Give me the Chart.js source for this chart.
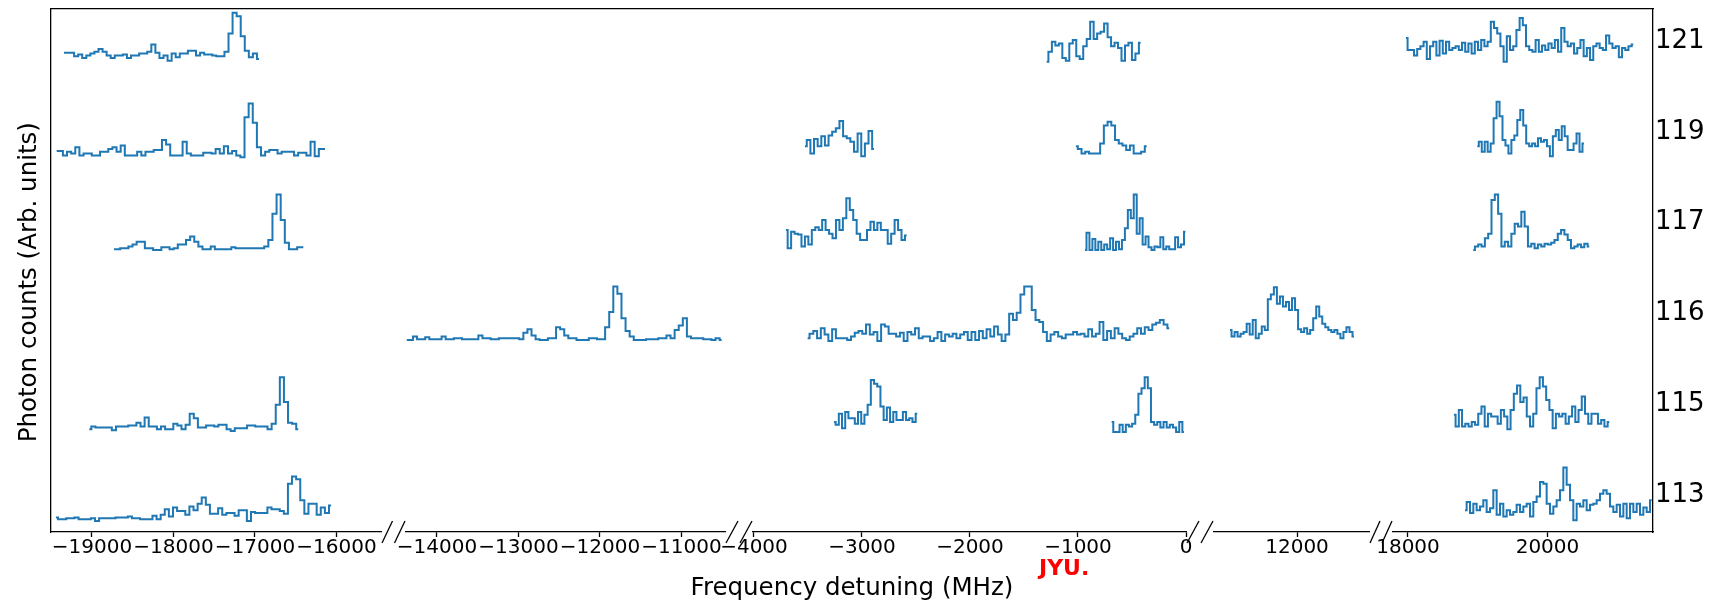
<!DOCTYPE html>
<html>
<head>
<meta charset="utf-8">
<script src="https://cdn.jsdelivr.net/npm/chart.js@4.4.0/dist/chart.umd.min.js"></script>
<style>
	html, body { margin: 0; padding: 0; background: #fff; }
	#wrap { position: relative; width: 1712px; height: 602px; }
	#jyu { position: absolute; left: 1039px; top: 557px; color: #f00; font: bold 22px "DejaVu Sans"; line-height: 1; }
</style>
</head>
<body>
<div id="wrap">
	<canvas id="myChart" width="1712" height="602"></canvas>
	<div id="jyu">JYU.</div>
</div>
<script>
// isotopes, bottom to top, and where their labels sit on the right axis
let isotopes = ['113', '115', '116', '117', '119', '121']
let rowTicks = [0.4, 1.4, 2.4, 3.4, 4.4, 5.4]

// limits (MHz) and tick values of the five pieces of the broken x axis
let seg1 = [-19503, -15454]
let seg2 = [-14380, -10466]
let seg3 = [-4009, 0]
let seg4 = [10814, 13028]
let seg5 = [17785, 21513]
let ticks1 = [-19000, -18000, -17000, -16000]
let ticks2 = [-14000, -13000, -12000, -11000]
let ticks3 = [-4000, -3000, -2000, -1000, 0]
let ticks4 = [12000]
let ticks5 = [18000, 20000]

// ***** SPECTRA *****
// first / last scan frequency (MHz) and the counts (1 count = 0.01 row)
let s121a_x = [-19344, -16951]
let s121a = [27,27,27,23,25,21,24,26,28,31,28,24,21,24,24,25,21,24,24,26,26,28,36,27,21,24,18,26,22,26,26,29,29,24,27,25,25,24,23,23,28,48,71,67,45,29,22,26,20]
let s121c_x = [-1290, -420]
let s121c = [17,28,39,35,37,21,18,37,41,23,20,34,42,61,42,48,50,59,44,34,38,32,18,35,38,19,26,38]
let s121e_x = [17971, 21230]
let s121e = [43,30,30,24,31,34,39,20,34,39,24,40,26,39,30,32,34,30,38,28,37,26,39,30,41,34,39,61,54,48,34,17,45,30,34,52,65,57,34,30,28,41,28,35,30,37,32,41,28,54,39,34,37,26,32,41,23,32,19,34,37,32,30,46,37,32,34,22,32,30,34,36]

let s119a_x = [-19433, -16141]
let s119a = [19,19,14,18,16,23,14,16,16,14,14,18,18,21,23,18,25,14,14,14,18,14,18,18,20,20,31,26,14,14,14,29,16,14,14,14,17,17,16,21,16,24,16,19,14,12,56,71,50,23,14,18,20,20,16,18,18,18,14,17,17,14,29,13,21,21]
let s119b_x = [-3528, -2889]
let s119b = [24,31,16,32,24,35,25,36,40,44,52,35,33,29,18,38,13,27,41,21]
let s119c_x = [-1019, -364]
let s119c = [24,21,16,18,16,16,16,27,47,51,47,31,27,25,20,25,16,16,18,24]
let s119e_x = [18994, 20523]
let s119e = [24,29,18,29,18,27,55,73,57,31,25,16,31,36,53,64,47,27,24,27,24,33,29,31,24,13,35,42,31,46,35,20,20,27,38,18,27]

let s117a_x = [-18730, -16407]
let s117a = [11,11,12,12,14,16,19,19,12,12,10,10,13,13,11,12,16,16,21,25,19,14,11,11,14,11,11,11,11,13,12,12,12,12,12,12,12,14,21,50,71,43,18,11,11,13,13]
let s117b_x = [-3704, -2586]
let s117b = [32,12,30,28,27,14,25,16,32,35,32,43,32,28,23,43,32,45,67,54,43,28,21,21,32,41,32,40,32,32,17,28,43,32,21,26]
let s117c_x = [-935, -5]
let s117c = [10,29,10,22,10,19,10,16,11,23,10,19,11,21,34,54,45,71,28,45,16,25,13,10,14,13,24,11,14,11,11,24,13,16,30]
let s117e_x = [18936, 20599]
let s117e = [10,14,16,14,23,28,65,71,50,14,19,14,28,39,36,52,36,14,17,12,16,14,17,16,18,21,28,32,27,21,12,14,16,13,17,14]

let s116b_x = [-14370, -10507]
let s116b = [11,11,15,12,12,14,12,12,12,15,12,12,13,13,12,12,12,12,16,13,13,12,12,13,13,13,13,13,12,19,23,16,12,11,11,13,13,25,23,16,13,13,11,11,11,13,13,12,12,25,42,70,62,35,21,15,11,11,11,12,12,12,13,13,16,13,22,27,35,15,13,13,13,12,12,11,13,11]
let s116c_x = [-3503, -155]
let s116c = [13,18,21,13,24,17,10,23,13,13,13,11,15,19,21,18,28,17,20,10,28,26,18,18,15,19,10,20,17,24,13,15,15,10,13,20,10,17,15,18,13,17,20,11,20,11,21,13,23,15,26,17,10,17,40,33,41,61,70,70,44,33,31,20,10,17,20,15,13,17,17,20,17,18,15,23,15,18,31,11,21,13,24,18,13,11,15,18,24,18,25,22,28,30,33,28,24]
let s116d_x = [11043, 12814]
let s116d = [22,15,20,15,18,20,29,17,33,13,18,26,22,56,61,69,51,59,48,53,44,57,44,23,20,24,18,22,35,48,37,29,25,22,20,22,18,13,20,25,20,15]

let s115a_x = [-19033, -16469]
let s115a = [13,16,15,15,15,15,12,16,16,16,17,17,20,16,26,16,16,13,16,13,13,19,17,13,18,30,25,15,15,17,17,16,18,18,13,11,14,14,14,17,17,16,16,16,13,19,40,70,43,20,19,13]
let s115b_x = [-3259, -2488]
let s115b = [21,18,30,14,32,25,25,19,32,19,29,40,67,63,60,38,23,37,21,32,23,23,32,23,25,21,30]
let s115c_x = [-688, -19]
let s115c = [21,10,10,18,10,18,16,19,29,52,58,70,58,21,18,21,15,21,15,18,15,10,21,10]
let s115e_x = [18659, 20886]
let s115e = [29,16,34,16,19,16,21,18,30,38,16,30,27,27,19,34,27,13,34,52,61,43,48,27,16,30,58,70,60,45,34,14,30,27,30,19,27,38,21,34,49,30,19,30,30,19,23,16,21]

let s113a_x = [-19442, -16067]
let s113a = [16,14,14,15,15,16,14,14,14,15,12,15,15,15,15,16,16,16,17,15,15,14,14,14,18,14,19,25,17,27,23,23,19,28,24,31,38,30,20,20,26,19,21,21,18,24,24,12,22,21,21,21,27,25,25,23,20,53,61,58,35,20,31,31,19,27,21,29]
let s113e_x = [18817, 21494]
let s113e = [24,33,21,31,24,28,35,22,26,46,19,31,17,24,19,22,30,22,28,31,17,33,39,55,53,31,20,28,35,46,71,52,35,13,31,28,35,24,30,31,35,42,46,42,28,22,30,17,31,15,31,22,31,19,27,22,35]

// row, x axis, range, counts
let spectra = [
	[5, 'x1', s121a_x, s121a], [5, 'x3', s121c_x, s121c], [5, 'x5', s121e_x, s121e],
	[4, 'x1', s119a_x, s119a], [4, 'x3', s119b_x, s119b], [4, 'x3', s119c_x, s119c], [4, 'x5', s119e_x, s119e],
	[3, 'x1', s117a_x, s117a], [3, 'x3', s117b_x, s117b], [3, 'x3', s117c_x, s117c], [3, 'x5', s117e_x, s117e],
	[2, 'x2', s116b_x, s116b], [2, 'x3', s116c_x, s116c], [2, 'x4', s116d_x, s116d],
	[1, 'x1', s115a_x, s115a], [1, 'x3', s115b_x, s115b], [1, 'x3', s115c_x, s115c], [1, 'x5', s115e_x, s115e],
	[0, 'x1', s113a_x, s113a], [0, 'x5', s113e_x, s113e],
]

// ***** STYLE *****
let lineColor = '#1f77b4'
let frameColor = '#000'
let tickFont = { family: 'DejaVu Sans', size: 20, lineHeight: 1 }

// pixel widths of the axis pieces and of the gaps between them
let segWidths = [330, 25, 319, 28, 433, 28, 155, 24, 260]

function xAxis(lim, ticks, weight) {
	return {
		type: 'linear',
		position: 'bottom',
		stack: 'bottom',
		stackWeight: weight,
		min: lim[0],
		max: lim[1],
		afterBuildTicks: (s) => { s.ticks = ticks.map((v) => ({ value: v })) },
		afterFit: (s) => { s.height = 42; s.paddingLeft = 0; s.paddingRight = 0 },
		ticks: {
			autoSkip: false, maxRotation: 0, minRotation: 0, padding: 1,
			color: '#000', font: tickFont,
			callback: (v) => String(v).replace('-', '\u2212'),
		},
		grid: { drawOnChartArea: false, tickLength: 5, color: frameColor, tickWidth: 1.3 },
		border: { display: true, color: frameColor, width: 1.3 },
	}
}

function gapAxis(weight) {
	return {
		type: 'linear',
		position: 'bottom',
		stack: 'bottom',
		stackWeight: weight,
		afterFit: (s) => { s.height = 42; s.paddingLeft = 0; s.paddingRight = 0 },
		ticks: { display: false },
		grid: { display: false, drawTicks: false },
		border: { display: false },
	}
}

// the // marks in each gap of the x axis
let breakMarks = {
	id: 'breakMarks',
	afterDraw(chart) {
		let ctx = chart.ctx
		let y = chart.chartArea.bottom
		ctx.save()
		ctx.strokeStyle = frameColor
		ctx.lineWidth = 1.3
		for (let id of ['g1', 'g2', 'g3', 'g4']) {
			let g = chart.scales[id]
			let half = (g.right - g.left) / 2
			for (let k = 0; k < 2; k++) {
				let x0 = g.left + k * half
				ctx.beginPath()
				ctx.moveTo(x0 + 1, y + 11)
				ctx.lineTo(x0 + half - 1, y - 11)
				ctx.stroke()
			}
		}
		ctx.restore()
	},
}

let datasets = spectra.map(([row, axis, lim, counts]) => ({
	data: counts.map((c, k) => ({
		x: lim[0] + (k * (lim[1] - lim[0])) / (counts.length - 1),
		y: row + c / 100,
	})),
	xAxisID: axis,
	yAxisID: 'y',
	borderColor: lineColor,
	borderWidth: 2,
	pointRadius: 0,
	stepped: 'middle',
	fill: false,
}))

let ctx = document.getElementById('myChart').getContext('2d')
let myChart = new Chart(ctx, {
	type: 'line',
	data: { datasets: datasets },
	options: {
		responsive: false,
		animation: false,
		layout: { padding: { top: 9, left: 0, right: 0, bottom: 0 } },
		plugins: {
			legend: { display: false },
			tooltip: { enabled: false },
			title: {
				display: true,
				position: 'bottom',
				fullSize: false,
				text: 'Frequency detuning (MHz)',
				color: '#000',
				font: { family: 'DejaVu Sans', size: 24.5, weight: 'normal', lineHeight: 1 },
				padding: { top: 2, bottom: 1.5 },
			},
		},
		scales: {
			x1: xAxis(seg1, ticks1, segWidths[0]),
			g1: gapAxis(segWidths[1]),
			x2: xAxis(seg2, ticks2, segWidths[2]),
			g2: gapAxis(segWidths[3]),
			x3: xAxis(seg3, ticks3, segWidths[4]),
			g3: gapAxis(segWidths[5]),
			x4: xAxis(seg4, ticks4, segWidths[6]),
			g4: gapAxis(segWidths[7]),
			x5: xAxis(seg5, ticks5, segWidths[8]),
			xTop: {
				type: 'linear',
				position: 'top',
				afterFit: (s) => { s.height = 0 },
				ticks: { display: false },
				grid: { display: false, drawTicks: false },
				border: { display: true, color: frameColor, width: 1.3 },
			},
			y: {
				type: 'linear',
				position: 'left',
				min: 0,
				max: 5.75,
				afterFit: (s) => { s.width = 51; s.paddingTop = 0; s.paddingBottom = 0 },
				ticks: { display: false },
				grid: { display: false, drawTicks: false },
				border: { display: true, color: frameColor, width: 1.3 },
				title: {
					display: true,
					// trailing spaces push the label down like in the original
					text: 'Photon counts (Arb. units)   ',
					color: '#000',
					font: { family: 'DejaVu Sans', size: 24.5, lineHeight: 1.2 },
					padding: { top: 15, bottom: 0 },
				},
			},
			yR: {
				type: 'linear',
				position: 'right',
				min: 0,
				max: 5.75,
				afterBuildTicks: (s) => { s.ticks = rowTicks.map((v) => ({ value: v })) },
				afterFit: (s) => { s.width = 59; s.paddingTop = 0; s.paddingBottom = 0 },
				ticks: {
					padding: 2,
					color: '#000',
					font: { family: 'DejaVu Sans', size: 26 },
					callback: (v, i) => isotopes[i],
				},
				grid: { display: false, drawTicks: false },
				border: { display: true, color: frameColor, width: 1.3 },
			},
		},
	},
	plugins: [breakMarks],
})
</script>
</body>
</html>
